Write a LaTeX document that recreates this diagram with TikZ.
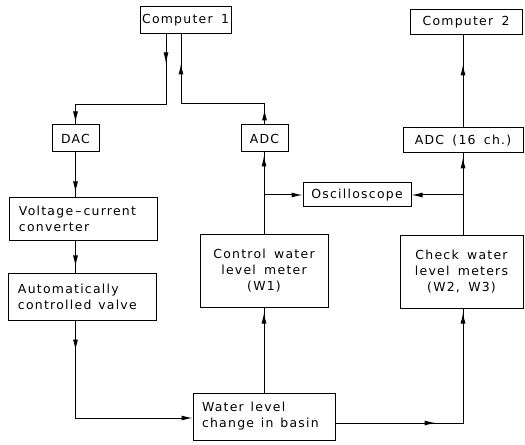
\documentclass[tikz,border=0pt]{standalone}
\usepackage{fontspec}
\setmainfont[LetterSpace=10,WordSpace=1.6]{DejaVu Sans}
\usetikzlibrary{arrows.meta,decorations.markings}
\tikzset{
  blk/.style={draw, line width=1bp, inner sep=0pt, font=\fontsize{12.5}{16}\selectfont},
  lblk/.style={blk, align=left, inner xsep=9bp, text width=129bp},
  tipat/.style={postaction={decorate,decoration={markings,mark=at position #1 with {\arrow{Latex[length=11bp,width=5bp]}}}}},
  conn/.style={line width=1bp},
  endtip/.style={-{Latex[length=11bp,width=5bp]}}
}
\begin{document}
\begin{tikzpicture}[x=1bp,y=-1bp]
\useasboundingbox (0,0) rectangle (525,445);
% boxes
\node[blk, minimum width=91bp, minimum height=27bp] (c1) at (185.5,20.5) {Computer 1};
\node[blk, minimum width=112bp, minimum height=25bp] (c2) at (466,22.5) {Computer 2};
\node[blk, minimum width=47bp, minimum height=27bp] (dac) at (75.5,138.5) {DAC};
\node[blk, minimum width=47bp, minimum height=27bp] (adc) at (264.5,138.5) {ADC};
\node[blk, minimum width=120bp, minimum height=25bp] (adc16) at (463,140.5) {ADC (16 ch.)};
\node[blk, minimum width=108bp, minimum height=24bp] (osc) at (357,195) {Oscilloscope};
\node[lblk, minimum height=42bp] (vc) at (83.5,219) {Voltage\,--\,current\\converter};
\node[lblk, minimum height=47bp] (auto) at (82.5,296.5) {\spaceskip=0.55em Automatically\\controlled valve};
\node[blk, minimum width=128bp, minimum height=72bp, align=center] (ctrl) at (264,271) {Control water\\level meter\\(W1)};
\node[blk, minimum width=123bp, minimum height=72bp, align=center] (check) at (461.5,272) {Check water\\level meters\\(W2, W3)};
\node[blk, minimum height=47bp, align=left, inner xsep=9bp, text width=124bp] (water) at (264,416.5) {\spaceskip=0.55em Water level\\change in basin};
% connectors
\draw[conn, tipat=29bp, tipat={\pgfdecoratedpathlength-2bp}] ([xshift=-19.5bp]c1.south) -- ++(0,70) -| (dac.north);
\draw[conn, tipat=15bp, tipat={\pgfdecoratedpathlength-29bp}] (adc.north) -- ++(0,-21) -| ([xshift=-4.5bp]c1.south);
\draw[conn, tipat={\pgfdecoratedpathlength-5bp}] (dac.south) -- (dac.south |- vc.north);
\draw[conn, tipat={\pgfdecoratedpathlength-6bp}] (dac.south |- vc.south) -- (dac.south |- auto.north);
\draw[conn, tipat=30bp, endtip] (dac.south |- auto.south) |- ([yshift=-1.5bp]water.west);
\draw[conn, tipat={\pgfdecoratedpathlength-5bp}] (water.north) -- (ctrl.south);
\draw[conn, tipat=100bp, tipat={\pgfdecoratedpathlength-4bp}] ([yshift=-6.5bp]water.east) -| (adc16.south |- check.south);
\draw[conn, tipat={\pgfdecoratedpathlength-3bp}] (ctrl.north) -- (ctrl.north |- adc.south);
\draw[conn, endtip] (ctrl.north |- osc.west) -- (osc.west);
\draw[conn, tipat={\pgfdecoratedpathlength-4bp}] (adc16.south |- check.north) -- (adc16.south);
\draw[conn, endtip] (adc16.south |- osc.east) -- (osc.east);
\draw[conn, tipat=63bp] (adc16.north) -- (adc16.north |- c2.south);
\end{tikzpicture}
\end{document}
